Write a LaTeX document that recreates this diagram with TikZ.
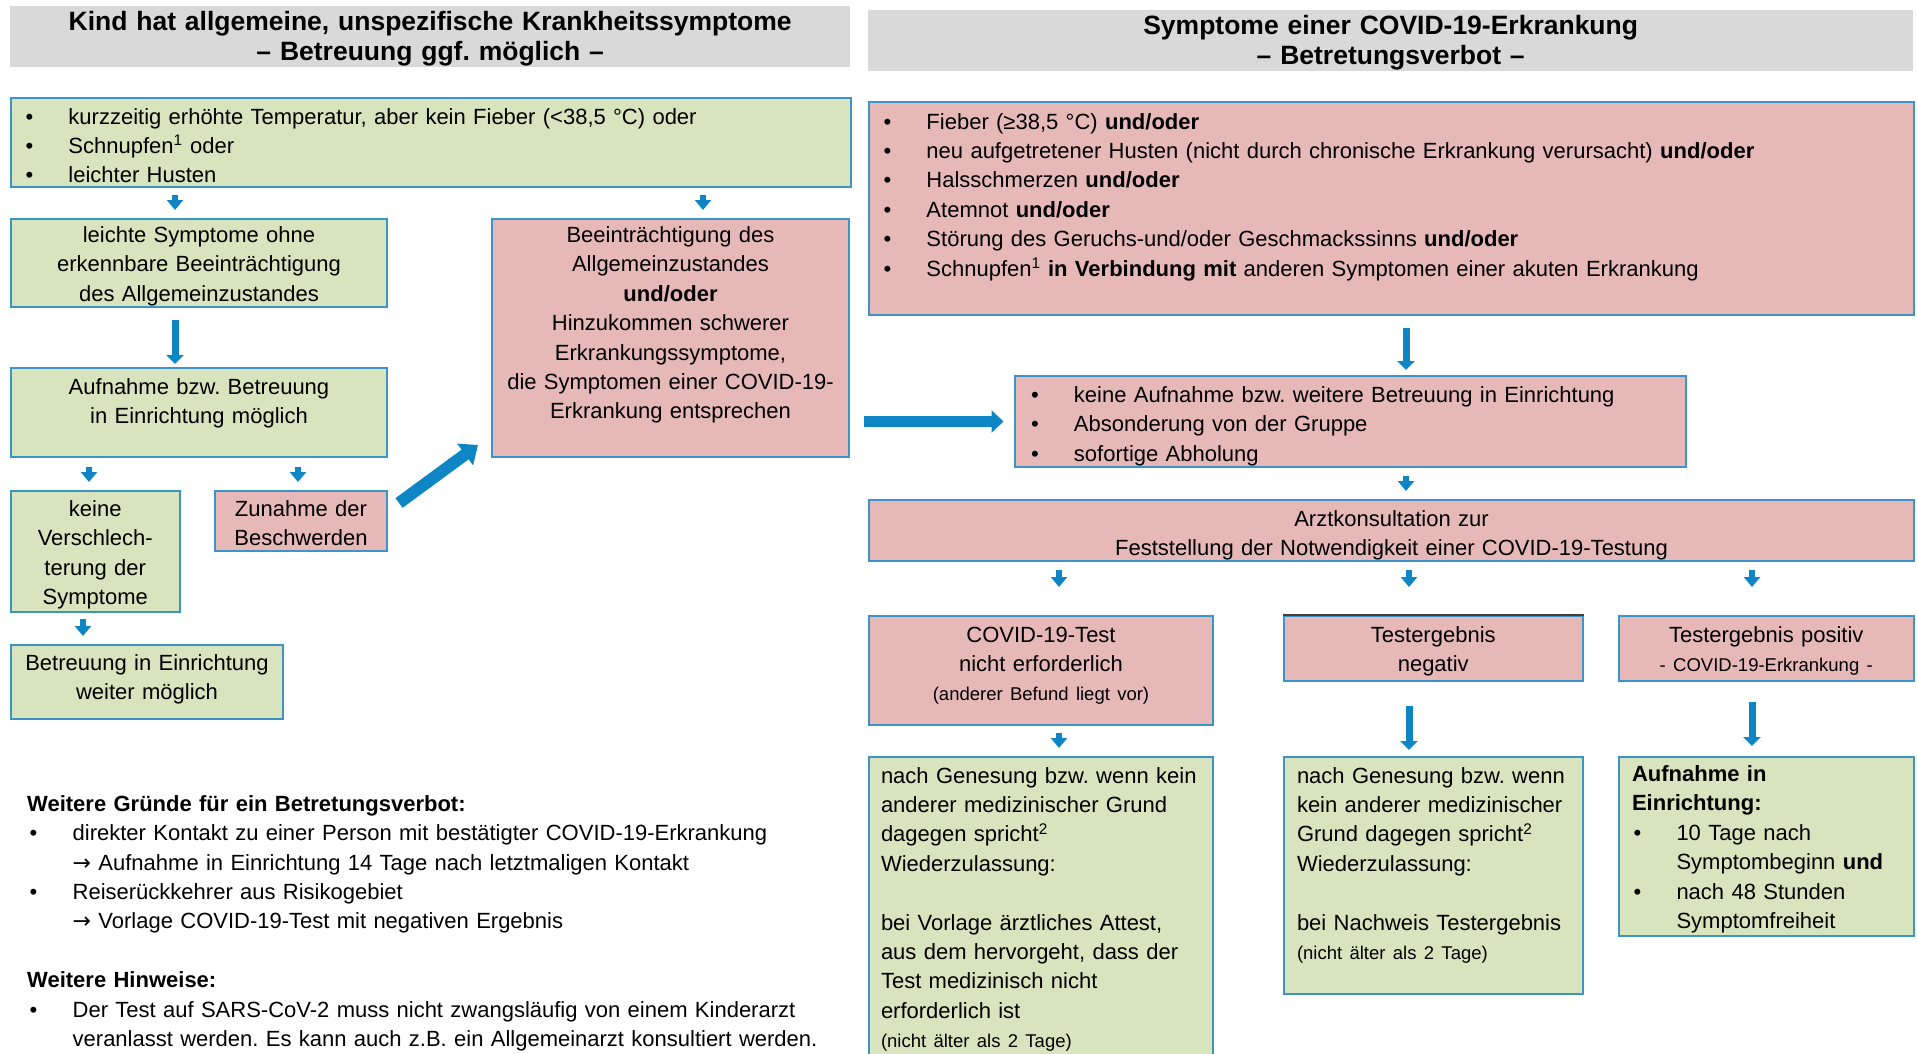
\documentclass[tikz,border=0pt]{standalone}
\usepackage{fontspec}
\setmainfont{Liberation Sans}
\newfontfamily\arrowfont{DejaVu Sans}
\usetikzlibrary{arrows.meta,calc}

\definecolor{hdrgray}{HTML}{D9D9D9}
\definecolor{boxgreen}{HTML}{D7E4BD}
\definecolor{boxred}{HTML}{E6B9B8}
\definecolor{boxline}{HTML}{3C94C8}
\definecolor{arrblue}{HTML}{0E86C6}
\definecolor{darkline}{HTML}{4F3B30}

\frenchspacing
\newcommand{\bodysize}{\fontsize{22}{29.4}\selectfont}
\newcommand{\smalltxt}{\fontsize{18.5}{29.4}\selectfont}
\newcommand{\bitem}[2][14.5pt]{\hspace*{#1}\makebox[43pt][l]{\textbullet}#2}
\newcommand{\then}{{\arrowfont →}~}

\tikzset{
  box/.style={draw=boxline, line width=2pt, anchor=north west, inner sep=0pt, font=\bodysize},
  greenbox/.style={box, fill=boxgreen},
  redbox/.style={box, fill=boxred},
  header/.style={fill=hdrgray, anchor=north west, inner sep=0pt, align=center,
    font=\fontsize{26.5}{30.5}\selectfont\bfseries},
  boxsize/.style n args={3}{text width=#1, text height=#2, text depth=#3},
  sarr/.style={arrblue, line width=6pt, -{Triangle[width=16pt,length=10pt]}},
  marr/.style={arrblue, line width=7pt, -{Triangle[width=17pt,length=9pt]}},
  harr/.style={arrblue, line width=11pt, -{Triangle[width=22pt,length=12pt]}},
  darr/.style={arrblue, line width=12pt, -{Triangle[width=26pt,length=16pt]}},
}

\begin{document}
\begin{tikzpicture}[x=1pt, y=-1pt]
\useasboundingbox (0,0) rectangle (1917,1053);

% headers
\node[header, boxsize={840pt}{24pt}{37pt}] (hleft) at (10,6)
  {Kind hat allgemeine, unspezifische Krankheitssymptome\\– Betreuung ggf. möglich –};
\node[header, boxsize={1045pt}{24pt}{37pt}] (hright) at (868,10)
  {Symptome einer COVID-19-Erkrankung\\– Betretungsverbot –};

% left side
\node[greenbox, align=left, boxsize={840pt}{26pt}{63pt}] (A) at (10,97)
  {\bitem{kurzzeitig erhöhte Temperatur, aber kein Fieber (<38,5 °C) oder}\\
   \bitem{Schnupfen\textsuperscript{1} oder}\\
   \bitem{leichter Husten}};
\node[greenbox, align=center, boxsize={376pt}{23.5pt}{64.5pt}] (B) at (10,218)
  {leichte Symptome ohne\\erkennbare Beeinträchtigung\\des Allgemeinzustandes};
\node[greenbox, align=center, boxsize={376pt}{26pt}{63pt}] (C) at (10,367)
  {Aufnahme bzw. Betreuung\\in Einrichtung möglich};
\node[greenbox, align=center, boxsize={168.5pt}{25.5pt}{95.5pt}] (D) at (10,490)
  {keine\\Verschlech-\\terung der\\Symptome};
\node[redbox, align=center, boxsize={172pt}{25.5pt}{34.5pt}] (E) at (214,490)
  {Zunahme der\\Beschwerden};
\node[redbox, align=center, boxsize={357pt}{23.5pt}{214.5pt}] (F) at (491,218)
  {Beeinträchtigung des\\Allgemeinzustandes\\\textbf{und/oder}\\Hinzukommen schwerer\\
   Erkrankungssymptome,\\die Symptomen einer COVID-19-\\Erkrankung entsprechen};
\node[greenbox, align=center, boxsize={272pt}{25.5pt}{48.5pt}] (G) at (10,644)
  {Betreuung in Einrichtung\\weiter möglich};

% notes
\node[anchor=north west, inner sep=0pt, align=left, font=\bodysize,
  boxsize={840pt}{20pt}{0pt}] (notes) at (27,791)
  {\textbf{Weitere Gründe für ein Betretungsverbot:}\\
   \bitem[2.5pt]{direkter Kontakt zu einer Person mit bestätigter COVID-19-Erkrankung}\\
   \hspace*{45.5pt}\then Aufnahme in Einrichtung 14 Tage nach letztmaligen Kontakt\\
   \bitem[2.5pt]{Reiserückkehrer aus Risikogebiet}\\
   \hspace*{45.5pt}\then Vorlage COVID-19-Test mit negativen Ergebnis\\[29.4pt]
   \textbf{Weitere Hinweise:}\\
   \bitem[2.5pt]{Der Test auf SARS-CoV-2 muss nicht zwangsläufig von einem Kinderarzt}\\
   \hspace*{45.5pt}veranlasst werden. Es kann auch z.B. ein Allgemeinarzt konsultiert werden.};

% right side
\node[redbox, align=left, boxsize={1045pt}{27pt}{186pt}] (H) at (868,101)
  {\bitem{Fieber (≥38,5 °C) \textbf{und/oder}}\\
   \bitem{neu aufgetretener Husten (nicht durch chronische Erkrankung verursacht) \textbf{und/oder}}\\
   \bitem{Halsschmerzen \textbf{und/oder}}\\
   \bitem{Atemnot \textbf{und/oder}}\\
   \bitem{Störung des Geruchs-und/oder Geschmackssinns \textbf{und/oder}}\\
   \bitem{Schnupfen\textsuperscript{1} \textbf{in Verbindung mit} anderen Symptomen einer akuten Erkrankung}};
\node[redbox, align=left, boxsize={671.5pt}{26.5pt}{64.5pt}] (I) at (1013.5,375)
  {\bitem[16.5pt]{keine Aufnahme bzw. weitere Betreuung in Einrichtung}\\
   \bitem[16.5pt]{Absonderung von der Gruppe}\\
   \bitem[16.5pt]{sofortige Abholung}};
\node[redbox, align=center, boxsize={1045pt}{26pt}{35pt}] (J) at (868,499)
  {Arztkonsultation zur\\Feststellung der Notwendigkeit einer COVID-19-Testung};
\node[redbox, align=center, boxsize={344pt}{26pt}{83pt}] (K) at (868,615)
  {COVID-19-Test\\nicht erforderlich\\{\smalltxt (anderer Befund liegt vor)}};
\node[redbox, align=center, boxsize={299.5pt}{26pt}{39pt}] (L) at (1282.5,615)
  {Testergebnis\\negativ};
\draw[darkline, line width=2pt] (L.north west) -- (L.north east);
\node[redbox, align=center, boxsize={295.5pt}{26pt}{39pt}] (M) at (1617.5,615)
  {Testergebnis positiv\\{\smalltxt - COVID-19-Erkrankung -}};
\node[greenbox, align=left, boxsize={344pt}{26.5pt}{278.5pt}] (N) at (868,755.5)
  {\leftskip=12pt nach Genesung bzw. wenn kein\\anderer medizinischer Grund\\
   dagegen spricht\textsuperscript{2}\\Wiederzulassung:\\[29.4pt]
   bei Vorlage ärztliches Attest,\\aus dem hervorgeht, dass der\\Test medizinisch nicht\\
   erforderlich ist\\{\smalltxt (nicht älter als 2 Tage)}\par};
\node[greenbox, align=left, boxsize={299.5pt}{26.5pt}{211pt}] (O) at (1282.5,755.5)
  {\leftskip=13.5pt nach Genesung bzw. wenn\\kein anderer medizinischer\\
   Grund dagegen spricht\textsuperscript{2}\\Wiederzulassung:\\[29.4pt]
   bei Nachweis Testergebnis\\{\smalltxt (nicht älter als 2 Tage)}\par};
\node[greenbox, align=left, boxsize={295.5pt}{25pt}{154.5pt}] (P) at (1617.5,755.5)
  {\leftskip=13.5pt \textbf{Aufnahme in}\\\textbf{Einrichtung:}\\
   \bitem[1.5pt]{10 Tage nach}\\\hspace*{44.5pt}Symptombeginn \textbf{und}\\
   \bitem[1.5pt]{nach 48 Stunden}\\\hspace*{44.5pt}Symptomfreiheit\par};

% arrow columns
\coordinate (xa) at (175,0);
\coordinate (xb) at (703,0);
\coordinate (xc) at (89,0);
\coordinate (xd) at (298,0);
\coordinate (xe) at (83,0);
\coordinate (xf) at (1406,0);
\coordinate (xg) at (1059,0);
\coordinate (xh) at (1409,0);
\coordinate (xi) at (1752,0);

% arrows left
\draw[sarr, shorten <=7pt, shorten >=8pt] (A.south -| xa) -- (B.north -| xa);
\draw[sarr, shorten <=7pt, shorten >=8pt] (A.south -| xb) -- (F.north -| xb);
\draw[marr, shorten <=12pt, shorten >=3pt] (B.south -| xa) -- (C.north -| xa);
\draw[sarr, shorten <=9pt, shorten >=8pt] (C.south -| xc) -- (D.north -| xc);
\draw[sarr, shorten <=9pt, shorten >=8pt] (C.south -| xd) -- (E.north -| xd);
\draw[sarr, shorten <=6pt, shorten >=8pt] (D.south -| xe) -- (G.north -| xe);
\draw[darr] ($(E.north east)+(11,13)$) -- ($(F.south west)+(-13,-13)$);
\draw[harr, shorten <=14pt, shorten >=10pt] (I.west -| F.east) -- (I.west);

% arrows right
\draw[marr, shorten <=12pt, shorten >=5pt] (H.south -| xf) -- (I.north -| xf);
\draw[sarr, shorten <=8pt, shorten >=8pt] (I.south -| xf) -- (J.north -| xf);
\foreach \col/\tgt in {xg/K, xh/L, xi/M}
  \draw[sarr, shorten <=8pt, shorten >=28pt] (J.south -| \col) -- (\tgt.north -| \col);
\draw[sarr, shorten <=7pt, shorten >=7.5pt] (K.south -| xg) -- (N.north -| xg);
\draw[marr, shorten <=24pt, shorten >=5.5pt] (L.south -| xh) -- (O.north -| xh);
\draw[marr, shorten <=20pt, shorten >=9.5pt] (M.south -| xi) -- (P.north -| xi);
\end{tikzpicture}
\end{document}
